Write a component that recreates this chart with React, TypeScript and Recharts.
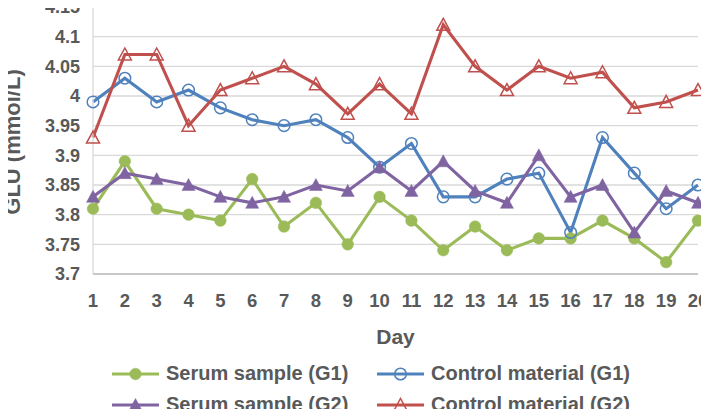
import React from "react";
import { LineChart, Line, XAxis, YAxis, CartesianGrid } from "recharts";

const days = [1, 2, 3, 4, 5, 6, 7, 8, 9, 10, 11, 12, 13, 14, 15, 16, 17, 18, 19, 20];
const serumG1 = [3.81, 3.89, 3.81, 3.8, 3.79, 3.86, 3.78, 3.82, 3.75, 3.83, 3.79, 3.74, 3.78, 3.74, 3.76, 3.76, 3.79, 3.76, 3.72, 3.79];
const controlG1 = [3.99, 4.03, 3.99, 4.01, 3.98, 3.96, 3.95, 3.96, 3.93, 3.88, 3.92, 3.83, 3.83, 3.86, 3.87, 3.77, 3.93, 3.87, 3.81, 3.85];
const serumG2 = [3.83, 3.87, 3.86, 3.85, 3.83, 3.82, 3.83, 3.85, 3.84, 3.88, 3.84, 3.89, 3.84, 3.82, 3.9, 3.83, 3.85, 3.77, 3.84, 3.82];
const controlG2 = [3.93, 4.07, 4.07, 3.95, 4.01, 4.03, 4.05, 4.02, 3.97, 4.02, 3.97, 4.12, 4.05, 4.01, 4.05, 4.03, 4.04, 3.98, 3.99, 4.01];
const yTicks = [3.7, 3.75, 3.8, 3.85, 3.9, 3.95, 4, 4.05, 4.1, 4.15];

const series = [
  { key: "serumG1", name: "Serum sample (G1)", color: "#9bbb59", marker: "dot", values: serumG1 },
  { key: "controlG1", name: "Control material (G1)", color: "#4f81bd", marker: "circle", values: controlG1 },
  { key: "serumG2", name: "Serum sample (G2)", color: "#8064a2", marker: "tri", values: serumG2 },
  { key: "controlG2", name: "Control material (G2)", color: "#c0504d", marker: "openTri", values: controlG2 },
];

const data = days.map((d, i) => {
  const row: any = { day: d };
  series.forEach((s) => (row[s.key] = s.values[i]));
  return row;
});

const FONT = "'Liberation Sans', Arial, Helvetica, sans-serif";
const TEXT = "#595959";

const Marker = ({ type, color, cx, cy }) => {
  if (cx == null || cy == null) return null;
  if (type === "dot") return <circle cx={cx} cy={cy} r={5.8} fill={color} stroke={color} strokeWidth={0.5} />;
  if (type === "circle") return <circle cx={cx} cy={cy} r={5.8} fill="none" stroke={color} strokeWidth={1.5} />;
  const pts = `${cx - 6.5},${cy + 5.5} ${cx + 6.5},${cy + 5.5} ${cx},${cy - 6.5}`;
  if (type === "tri") return <polygon points={pts} fill={color} stroke={color} strokeWidth={0.5} />;
  return <polygon points={pts} fill="none" stroke={color} strokeWidth={1.5} />;
};

const LegendItem = ({ s }) => (
  <div style={{ display: "flex", alignItems: "center", height: 31 }}>
    <svg width={47} height={16} style={{ marginRight: 7 }}>
      <line x1={0} y1={8} x2={47} y2={8} stroke={s.color} strokeWidth={3.2} />
      <Marker type={s.marker} color={s.color} cx={23.5} cy={8} />
    </svg>
    <span style={{ fontFamily: FONT, fontWeight: 700, fontSize: 20, color: TEXT, whiteSpace: "nowrap" }}>{s.name}</span>
  </div>
);

export default function App() {
  return (
    <div style={{ position: "relative", width: 709, height: 417, margin: -8, background: "#fff" }}>
      <LineChart width={709} height={417} data={data} margin={{ top: 7, right: 11, left: 0, bottom: 0 }}>
        <CartesianGrid vertical={false} stroke="#d9d9d9" strokeWidth={1.3} />
        <XAxis
          dataKey="day"
          height={143}
          tickLine={false}
          tickSize={0}
          tickMargin={20}
          axisLine={{ stroke: "#bfbfbf", strokeWidth: 1.5 }}
          tick={{ fontFamily: FONT, fontWeight: 700, fontSize: 18.5, fill: TEXT }}
          interval={0}
          label={{
            content: ({ viewBox }: any) => (
              <text
                x={viewBox.x + viewBox.width / 2}
                y={viewBox.y + 70}
                textAnchor="middle"
                fontFamily={FONT}
                fontWeight={700}
                fontSize={21}
                fill={TEXT}
              >
                Day
              </text>
            ),
          }}
        />
        <YAxis
          width={93}
          domain={[3.7, 4.15]}
          ticks={yTicks}
          interval={0}
          tickLine={false}
          tickSize={0}
          tickMargin={13}
          axisLine={{ stroke: "#d9d9d9", strokeWidth: 1.3 }}
          tickFormatter={(v) => String(Number(v.toFixed(2)))}
          tick={{ fontFamily: FONT, fontWeight: 700, fontSize: 18, fill: TEXT }}
          label={{
            content: () => (
              <text
                x={12}
                y={142}
                transform="rotate(-90 12 142)"
                textAnchor="middle"
                dominantBaseline="central"
                fontFamily={FONT}
                fontWeight={700}
                fontSize={22}
                fill={TEXT}
              >
                GLU (mmol/L)
              </text>
            ),
          }}
        />
        {series.map((s) => (
          <Line
            key={s.key}
            dataKey={s.key}
            name={s.name}
            stroke={s.color}
            strokeWidth={3.1}
            isAnimationActive={false}
            dot={(p: any) => <Marker key={`${s.key}-${p.index}`} type={s.marker} color={s.color} cx={p.cx} cy={p.cy} />}
            activeDot={false}
          />
        ))}
      </LineChart>
      <div
        style={{
          position: "absolute",
          left: 112,
          top: 358,
          display: "grid",
          gridTemplateColumns: "265px 300px",
        }}
      >
        {series.map((s) => (
          <LegendItem key={s.key} s={s} />
        ))}
      </div>
    </div>
  );
}
